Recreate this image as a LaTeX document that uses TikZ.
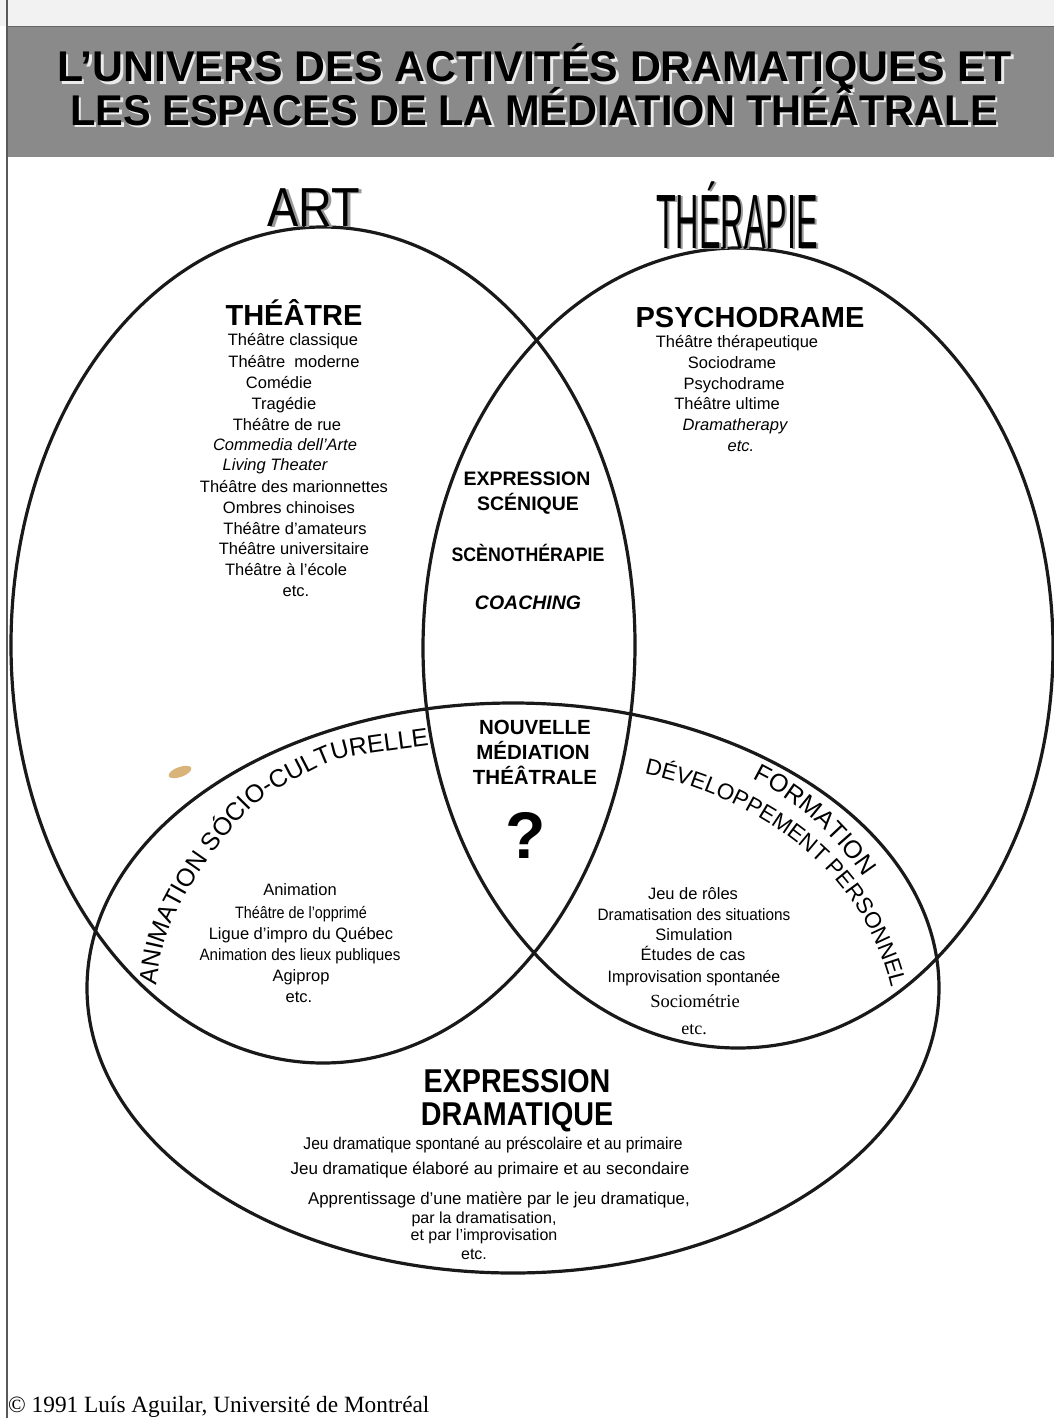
\documentclass[tikz,border=0pt]{standalone}
\usepackage{fontspec}
\setmainfont{Liberation Sans}
\newfontfamily\seriff{Liberation Serif}
\usetikzlibrary{decorations.text}
\newcommand{\setfs}[1]{\fontsize{#1}{#1}\selectfont}
\newcommand{\narr}[2]{\scalebox{#1}[1]{#2}}
\definecolor{bannergray}{HTML}{8A8A8A}
\definecolor{smudge}{HTML}{D9B47A}
\tikzset{
  ell/.style={draw=black!90, line width=3.2pt},
  item/.style={inner sep=0pt, anchor=mid, font=\setfs{16.5}},
  itemb/.style={inner sep=0pt, anchor=mid, font=\setfs{17}},
  seritem/.style={inner sep=0pt, anchor=mid, font=\seriff\setfs{18.5}},
  head/.style={inner sep=0pt, anchor=base, font=\setfs{29}\bfseries},
  lens/.style={inner sep=0pt, anchor=base, font=\setfs{19.5}\bfseries},
  lensb/.style={inner sep=0pt, anchor=base, font=\setfs{20.5}\bfseries},
  bighead/.style={inner sep=0pt, anchor=base, font=\setfs{33}\bfseries},
  titletxt/.style={inner sep=0pt, anchor=base, font=\setfs{43}\bfseries},
  titleshadow/.style={titletxt, text=white!92!black},
  bigword/.style={inner sep=0pt, anchor=base, font=\setfs{55}},
  bigwordT/.style={inner sep=0pt, anchor=base, font=\setfs{77}},
  curved/.style={decorate, decoration={text along path, text align=center, text={#1}}}
}
\begin{document}
\begin{tikzpicture}[x=1pt,y=1pt]
% page
\fill[white] (0,0) rectangle (1054,-1418);
\fill[black!5] (0,0) rectangle (1054,-26);
\useasboundingbox (0,0) rectangle (1054,-1418);
% banner
\fill[bannergray] (7,-26) rectangle (1054,-157);
\draw[black!60, line width=1.5pt] (7,-26.5) -- (1054,-26.5);
% left rule
\draw[black!65, line width=1.6pt] (7,0) -- (7,-1418);

% title
\node[titleshadow] (t1s) at (537,-84.5) {\narr{0.995}{L’UNIVERS DES ACTIVITÉS DRAMATIQUES ET}};
\node[titletxt] (t1) at (534.5,-82) {\narr{0.995}{L’UNIVERS DES ACTIVITÉS DRAMATIQUES ET}};
\node[titleshadow] (t2s) at (536.5,-127.5) {\narr{0.965}{LES ESPACES DE LA MÉDIATION THÉÂTRALE}};
\node[titletxt] (t2) at (534,-125) {\narr{0.965}{LES ESPACES DE LA MÉDIATION THÉÂTRALE}};

% ellipses
\draw[ell] (323,-645) ellipse [x radius=312pt, y radius=418pt];
\draw[ell] (738,-648) ellipse [x radius=315pt, y radius=400pt];
\draw[ell] (513,-988) ellipse [x radius=426pt, y radius=285pt];

% smudge
\fill[smudge, rotate around={20:(180,-772)}] (180,-772) ellipse [x radius=12pt, y radius=5pt];

% ART / THERAPIE
\node[bigword, text=black!40] (arts) at (317,-227) {\narr{0.85}{ART}};
\node[bigword] (art) at (314,-226) {\narr{0.85}{ART}};
\node[bigwordT, text=black!40] (thers) at (739,-249) {\narr{0.42}{THÉRAPIE}};
\node[bigwordT] (ther) at (737,-248) {\narr{0.42}{THÉRAPIE}};

% THEATRE
\node[head] (theatre) at (294,-325) {THÉÂTRE};
\node[item] (a1) at (293,-343) {Théâtre classique};
\node[item] (a2) at (294,-365) {Théâtre~ moderne};
\node[item] (a3) at (279,-386) {Comédie};
\node[item] (a4) at (284,-407) {Tragédie};
\node[item] (a5) at (287,-428) {Théâtre de rue};
\node[item] (a6) at (285,-448) {\itshape Commedia dell'Arte};
\node[item] (a7) at (275,-468) {\itshape Living Theater};
\node[item] (a8) at (294,-490) {Théâtre des marionnettes};
\node[item] (a9) at (289,-511) {Ombres chinoises};
\node[item] (a10) at (295,-532) {Théâtre d'amateurs};
\node[item] (a11) at (294,-552) {Théâtre universitaire};
\node[item] (a12) at (286,-573) {Théâtre à l'école};
\node[item] (a13) at (296,-594) {etc.};

% PSYCHODRAME
\node[head] (psycho) at (750,-327) {PSYCHODRAME};
\node[item] (p1) at (737,-345) {Théâtre thérapeutique};
\node[item] (p2) at (732,-366) {Sociodrame};
\node[item] (p3) at (734,-387) {Psychodrame};
\node[item] (p4) at (727,-407) {Théâtre ultime};
\node[item] (p5) at (735,-428) {\itshape Dramatherapy};
\node[item] (p6) at (741,-449) {\itshape etc.};

% lens
\node[lens] (l1) at (527,-485) {EXPRESSION};
\node[lens] (l2) at (528,-510) {SCÉNIQUE};
\node[lens] (l3) at (528,-561) {\narr{0.91}{SCÈNOTHÉRAPIE}};
\node[lens] (l4) at (528,-609) {\itshape COACHING};
\node[lensb] (n1) at (535,-734) {NOUVELLE};
\node[lensb] (n2) at (533,-759) {MÉDIATION};
\node[lensb] (n3) at (535,-784) {THÉÂTRALE};
\node[inner sep=0pt, anchor=base, font=\setfs{66}\bfseries] (q) at (526,-858) {?};

% curved labels
\path[curved={|\setfs{25}|ANIMATION SÓCIO-CULTURELLE}] plot[smooth] coordinates {(153,-1003) (156,-988) (167,-933) (202,-868) (254,-805) (300,-777) (344,-758) (432,-745) (447,-743)};
\path[curved={|\setfs{25}|FORMATION}] (738,-772) .. controls (790,-795) and (835,-830) .. (872,-891);
\path[curved={|\setfs{22.5}|DÉVELOPPEMENT PERSONNEL}] (626,-770) .. controls (740,-790) and (870,-860) .. (895,-1006);

% animation list
\node[item] (b1) at (300,-893) {Animation};
\node[item] (b2) at (301,-916) {\narr{0.87}{Théâtre de l'opprimé}};
\node[item] (b3) at (301,-937) {Ligue d’impro du Québec};
\node[item] (b4) at (300,-958) {\narr{0.92}{Animation des lieux publiques}};
\node[item] (b5) at (301,-979) {Agiprop};
\node[item] (b6) at (299,-1000) {etc.};

% formation list
\node[item] (f1) at (693,-897) {Jeu de rôles};
\node[item] (f2) at (694,-918) {\narr{0.93}{Dramatisation des situations}};
\node[item] (f3) at (694,-938) {Simulation};
\node[item] (f4) at (693,-958) {Études de cas};
\node[item] (f5) at (694,-980) {\narr{0.96}{Improvisation spontanée}};
\node[seritem] (f6) at (695,-1005) {Sociométrie};
\node[seritem, font=\seriff\setfs{18}] (f7) at (694,-1032) {etc.};

% expression dramatique
\node[bighead] (e1) at (517,-1092) {\narr{0.87}{EXPRESSION}};
\node[bighead] (e2) at (517,-1125) {\narr{0.87}{DRAMATIQUE}};
\node[itemb] (d1) at (493,-1147) {\narr{0.92}{Jeu dramatique spontané au préscolaire et au primaire}};
\node[itemb] (d2) at (490,-1172) {Jeu dramatique élaboré au primaire et au secondaire};
\node[itemb] (d3) at (499,-1202) {\narr{0.99}{Apprentissage d’une matière par le jeu dramatique,}};
\node[itemb, font=\setfs{16}] (d4) at (484,-1221) {par la dramatisation,};
\node[itemb, font=\setfs{16}] (d5) at (484,-1238) {et par l'improvisation};
\node[itemb, font=\setfs{16}] (d6) at (474,-1257) {etc.};

% footer
\node[inner sep=0pt, anchor=base west, font=\seriff\setfs{23.3}] (foot) at (8,-1412) {© 1991 Luís Aguilar, Université de Montréal};
\end{tikzpicture}
\end{document}
